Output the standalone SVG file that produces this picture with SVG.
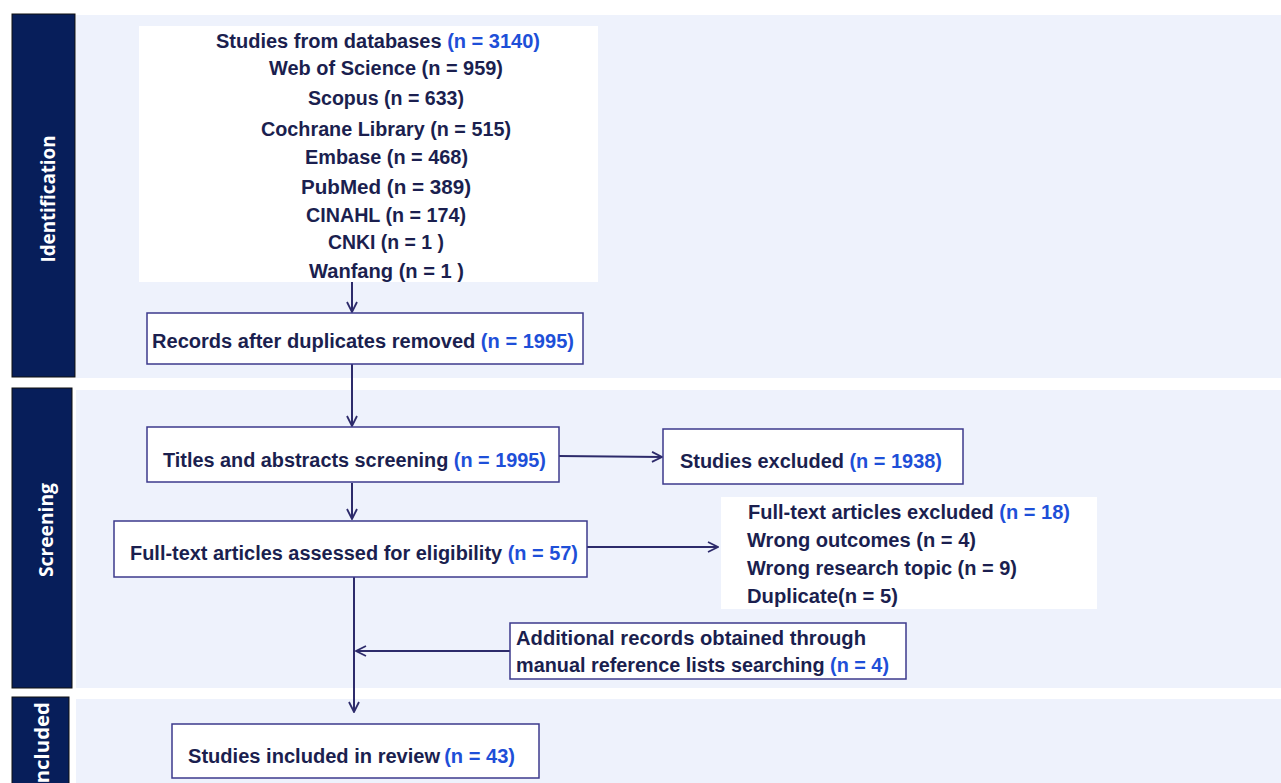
<svg xmlns="http://www.w3.org/2000/svg" width="1281" height="783" viewBox="0 0 1281 783">
<defs>
<style>
.panel{fill:#EEF2FC}
.bar{fill:#071E5A;stroke:#111;stroke-width:1}
.lab{font-family:"Open Sans","Liberation Sans",sans-serif;font-weight:bold;font-size:19px;fill:#FFFFFF}
.box{fill:#FFFFFF;stroke:#3C3A8C;stroke-width:1.5}
.wbox{fill:#FFFFFF}
.t{font-family:"Liberation Sans Narrow","Liberation Sans",Arial,sans-serif;font-weight:bold;font-size:20px;fill:#1B1F4F}
.n{fill:#1E4FD8}
.c{fill:none;stroke:#2D2B6B;stroke-width:2}
</style>
<marker id="ah" viewBox="0 0 12 12" refX="11" refY="6" markerWidth="12" markerHeight="12" markerUnits="userSpaceOnUse" orient="auto">
<path d="M1,1 L11,6 L1,11" fill="none" stroke="#2D2B6B" stroke-width="1.8"/>
</marker>
</defs>
<rect width="1281" height="783" fill="#FFFFFF"/>

<g id="phase-identification">
<rect class="panel" x="76" y="15" width="1205" height="363"/>
<rect class="bar" x="12" y="14" width="63" height="363"/>
<text class="lab" transform="translate(55,199) rotate(-90)" text-anchor="middle" textLength="127" lengthAdjust="spacingAndGlyphs">Identification</text>
</g>
<g id="phase-screening">
<rect class="panel" x="76" y="390" width="1205" height="298"/>
<rect class="bar" x="12" y="388" width="60" height="300"/>
<text class="lab" transform="translate(53,530) rotate(-90)" text-anchor="middle" textLength="94" lengthAdjust="spacingAndGlyphs">Screening</text>
</g>
<g id="phase-included">
<rect class="panel" x="76" y="699" width="1205" height="84"/>
<rect class="bar" x="12" y="697" width="57" height="90"/>
<text class="lab" transform="translate(49,746) rotate(-90)" text-anchor="middle" textLength="88" lengthAdjust="spacingAndGlyphs">Included</text>
</g>

<g id="connectors">
<line class="c" x1="352" y1="282" x2="352" y2="312" marker-end="url(#ah)"/>
<line class="c" x1="352" y1="364" x2="352" y2="426" marker-end="url(#ah)"/>
<line class="c" x1="559" y1="456" x2="662" y2="457" marker-end="url(#ah)"/>
<line class="c" x1="352" y1="483" x2="352" y2="519" marker-end="url(#ah)"/>
<line class="c" x1="587" y1="547" x2="718" y2="547" marker-end="url(#ah)"/>
<line class="c" x1="354" y1="577" x2="354" y2="712" marker-end="url(#ah)"/>
<line class="c" x1="510" y1="651" x2="356" y2="651" marker-end="url(#ah)"/>
</g>

<g id="node-databases">
<rect class="wbox" x="139" y="26" width="459" height="256"/>
<text class="t" x="216" y="48" textLength="324" lengthAdjust="spacingAndGlyphs">Studies from databases <tspan class="n">(n = 3140)</tspan></text>
<text class="t" x="269" y="75" textLength="234" lengthAdjust="spacingAndGlyphs">Web of Science (n = 959)</text>
<text class="t" x="308" y="105" textLength="156" lengthAdjust="spacingAndGlyphs">Scopus (n = 633)</text>
<text class="t" x="261" y="136" textLength="250" lengthAdjust="spacingAndGlyphs">Cochrane Library (n = 515)</text>
<text class="t" x="305" y="164" textLength="163" lengthAdjust="spacingAndGlyphs">Embase (n = 468)</text>
<text class="t" x="301" y="194" textLength="170" lengthAdjust="spacingAndGlyphs">PubMed (n = 389)</text>
<text class="t" x="306" y="222" textLength="160" lengthAdjust="spacingAndGlyphs">CINAHL (n = 174)</text>
<text class="t" x="328" y="249" textLength="116" lengthAdjust="spacingAndGlyphs">CNKI (n = 1 )</text>
<text class="t" x="309" y="278" textLength="155" lengthAdjust="spacingAndGlyphs">Wanfang (n = 1 )</text>
</g>

<g id="node-duplicates">
<rect class="box" x="147" y="313" width="436" height="51"/>
<text class="t" x="152" y="348" textLength="422" lengthAdjust="spacingAndGlyphs">Records after duplicates removed <tspan class="n">(n = 1995)</tspan></text>
</g>

<g id="node-titles">
<rect class="box" x="147" y="427" width="412" height="55"/>
<text class="t" x="163" y="467" textLength="383" lengthAdjust="spacingAndGlyphs">Titles and abstracts screening <tspan class="n">(n = 1995)</tspan></text>
</g>

<g id="node-excluded">
<rect class="box" x="663" y="429" width="300" height="55"/>
<text class="t" x="680" y="468" textLength="262" lengthAdjust="spacingAndGlyphs">Studies excluded <tspan class="n">(n = 1938)</tspan></text>
</g>

<g id="node-fulltext">
<rect class="box" x="114" y="521" width="473" height="56"/>
<text class="t" x="130" y="560" textLength="448" lengthAdjust="spacingAndGlyphs">Full-text articles assessed for eligibility <tspan class="n">(n = 57)</tspan></text>
</g>

<g id="node-ft-excluded">
<rect class="wbox" x="721" y="497" width="376" height="112"/>
<text class="t" x="748" y="519" textLength="322" lengthAdjust="spacingAndGlyphs">Full-text articles excluded <tspan class="n">(n = 18)</tspan></text>
<text class="t" x="747" y="547" textLength="229" lengthAdjust="spacingAndGlyphs">Wrong outcomes (n = 4)</text>
<text class="t" x="747" y="575" textLength="270" lengthAdjust="spacingAndGlyphs">Wrong research topic (n = 9)</text>
<text class="t" x="747" y="603" textLength="151" lengthAdjust="spacingAndGlyphs">Duplicate(n = 5)</text>
</g>

<g id="node-additional">
<rect class="box" x="510" y="623" width="396" height="56"/>
<text class="t" x="516" y="645" textLength="350" lengthAdjust="spacingAndGlyphs">Additional records obtained through</text>
<text class="t" x="516" y="672" textLength="373" lengthAdjust="spacingAndGlyphs">manual reference lists searching <tspan class="n">(n = 4)</tspan></text>
</g>

<g id="node-included">
<rect class="box" x="172" y="724" width="367" height="54"/>
<text class="t" x="188" y="763" textLength="327" lengthAdjust="spacingAndGlyphs">Studies included in review<tspan class="n" dx="4">(n = 43)</tspan></text>
</g>
</svg>
